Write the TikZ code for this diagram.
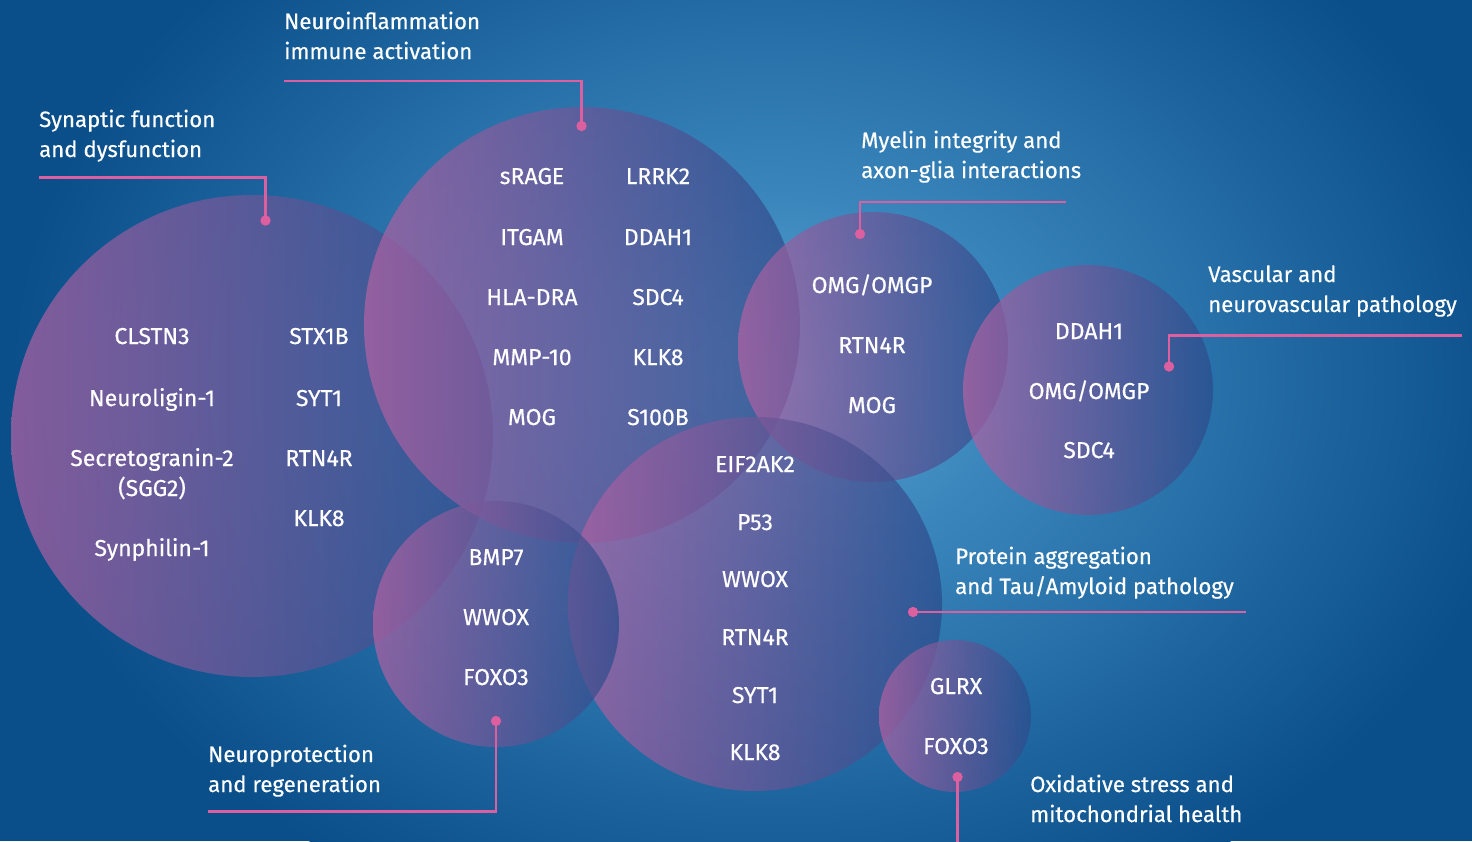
\documentclass[tikz,border=0pt]{standalone}
\usepackage{fontspec}
\setmainfont{Fira Sans}[FakeBold=0.4]
\definecolor{bgdark}{HTML}{0A4E8A}
\definecolor{bgmid}{HTML}{3A86BC}
\definecolor{bglight}{HTML}{5AA2CF}
\definecolor{pinkc}{HTML}{B262A3}
\definecolor{bluec}{HTML}{2A4C8C}
\definecolor{linec}{HTML}{DC5FA0}
\pgfdeclareradialshading{glow}{\pgfpoint{0bp}{0bp}}{color(0bp)=(bglight); color(8bp)=(bgmid); color(25bp)=(bgdark); color(50bp)=(bgdark)}
\tikzset{
  setc/.style={circle, inner sep=0pt, minimum size=#1, shade, left color=pinkc, right color=bluec, fill opacity=0.72, draw=none},
  gene/.style={text=white, inner sep=0pt, anchor=base, font=\fontsize{23}{30}\selectfont},
  head/.style={text=white, inner sep=0pt, anchor=base west, align=left, font=\fontsize{22.2}{30}\selectfont},
  conn/.style={draw=linec, line width=2.5pt},
  dotc/.style={circle, fill=linec, inner sep=0pt, minimum size=10pt},
}
\begin{document}
\begin{tikzpicture}[x=1pt,y=-1pt]
\useasboundingbox (0,0) rectangle (1472,841);
\fill[bgdark] (0,0) rectangle (1472,841);
\begin{scope}
\clip (0,0) rectangle (1472,841);
\shade[shading=glow] (770,380) ellipse [x radius=760pt, y radius=580pt];
\end{scope}

% sets
\node[setc=482pt] (c1) at (252,436) {};
\node[setc=436pt] (c2) at (582,325) {};
\node[setc=270pt] (c3) at (873,347) {};
\node[setc=250pt] (c4) at (1088,390) {};
\node[setc=374pt] (c5) at (755,604) {};
\node[setc=246pt] (c6) at (496,624) {};
\node[setc=152pt] (c7) at (955,716) {};

% genes: synaptic
\node[gene] (g11) at (152,344) {CLSTN3};
\node[gene] (g12) at (152,406) {Neuroligin-1};
\node[gene] (g13) at (152,466) {Secretogranin-2};
\node[gene] (g14) at (152,496) {(SGG2)};
\node[gene] (g15) at (152,556) {Synphilin-1};
\node[gene] (g16) at (319,344) {STX1B};
\node[gene] (g17) at (319,406) {SYT1};
\node[gene] (g18) at (319,466) {RTN4R};
\node[gene] (g19) at (319,526) {KLK8};
% neuroinflammation
\node[gene] (g21) at (532,184) {sRAGE};
\node[gene] (g22) at (532,245) {ITGAM};
\node[gene] (g23) at (532,305) {HLA-DRA};
\node[gene] (g24) at (532,365) {MMP-10};
\node[gene] (g25) at (532,425) {MOG};
\node[gene] (g26) at (658,184) {LRRK2};
\node[gene] (g27) at (658,245) {DDAH1};
\node[gene] (g28) at (658,305) {SDC4};
\node[gene] (g29) at (658,365) {KLK8};
\node[gene] (g2a) at (658,425) {S100B};
% myelin
\node[gene] (g31) at (872,293) {OMG/OMGP};
\node[gene] (g32) at (872,353) {RTN4R};
\node[gene] (g33) at (872,413) {MOG};
% vascular
\node[gene] (g41) at (1089,339) {DDAH1};
\node[gene] (g42) at (1089,399) {OMG/OMGP};
\node[gene] (g43) at (1089,458) {SDC4};
% protein aggregation
\node[gene] (g51) at (755,472) {EIF2AK2};
\node[gene] (g52) at (755,530) {P53};
\node[gene] (g53) at (755,587) {WWOX};
\node[gene] (g54) at (755,645) {RTN4R};
\node[gene] (g55) at (755,703) {SYT1};
\node[gene] (g56) at (755,760) {KLK8};
% neuroprotection
\node[gene] (g61) at (496,565) {BMP7};
\node[gene] (g62) at (496,625) {WWOX};
\node[gene] (g63) at (496,685) {FOXO3};
% oxidative
\node[gene] (g71) at (956,694) {GLRX};
\node[gene] (g72) at (956,754) {FOXO3};

% headings (anchor = baseline of the last line)
\node[head] (h1) at (39,157) {Synaptic function\\and dysfunction};
\node[head] (h2) at (284,59) {Neuroinflammation\\immune activation};
\node[head] (h3) at (861,178) {Myelin integrity and\\axon-glia interactions};
\node[head] (h4) at (1208,312) {Vascular and\\neurovascular pathology};
\node[head] (h5) at (955,594) {Protein aggregation\\and Tau/Amyloid pathology};
\node[head] (h6) at (208,792) {Neuroprotection\\and regeneration};
\node[head] (h7) at (1030,822) {Oxidative stress and\\mitochondrial health};

% connectors
\coordinate (e1) at (39,177.5);
\coordinate (e2) at (284,81);
\coordinate (e3) at (1066,202);
\coordinate (e4) at (1462,335.5);
\coordinate (e5) at (1246,612);
\coordinate (e6) at (208,811.5);
\coordinate (e7) at (957.5,845);
\node[dotc] (d1) at (265.5,220.5) {};
\node[dotc] (d2) at (581.5,126) {};
\node[dotc] (d3) at (860,234) {};
\node[dotc] (d4) at (1169,366.5) {};
\node[dotc] (d5) at (913,612) {};
\node[dotc] (d6) at (496,721) {};
\node[dotc] (d7) at (957.5,777) {};
\draw[conn] (d1.center) |- (e1);
\draw[conn] (d2.center) |- (e2);
\draw[conn] (d3.center) |- (e3);
\draw[conn] (d4.center) |- (e4);
\draw[conn] (d5.center) -- (e5);
\draw[conn] (d6.center) |- (e6);
\draw[conn] (d7.center) -- (e7);
\foreach \d in {d1,d2,d3,d4,d5,d6,d7} \fill[linec] (\d) circle [radius=5pt];
\end{tikzpicture}
\end{document}
